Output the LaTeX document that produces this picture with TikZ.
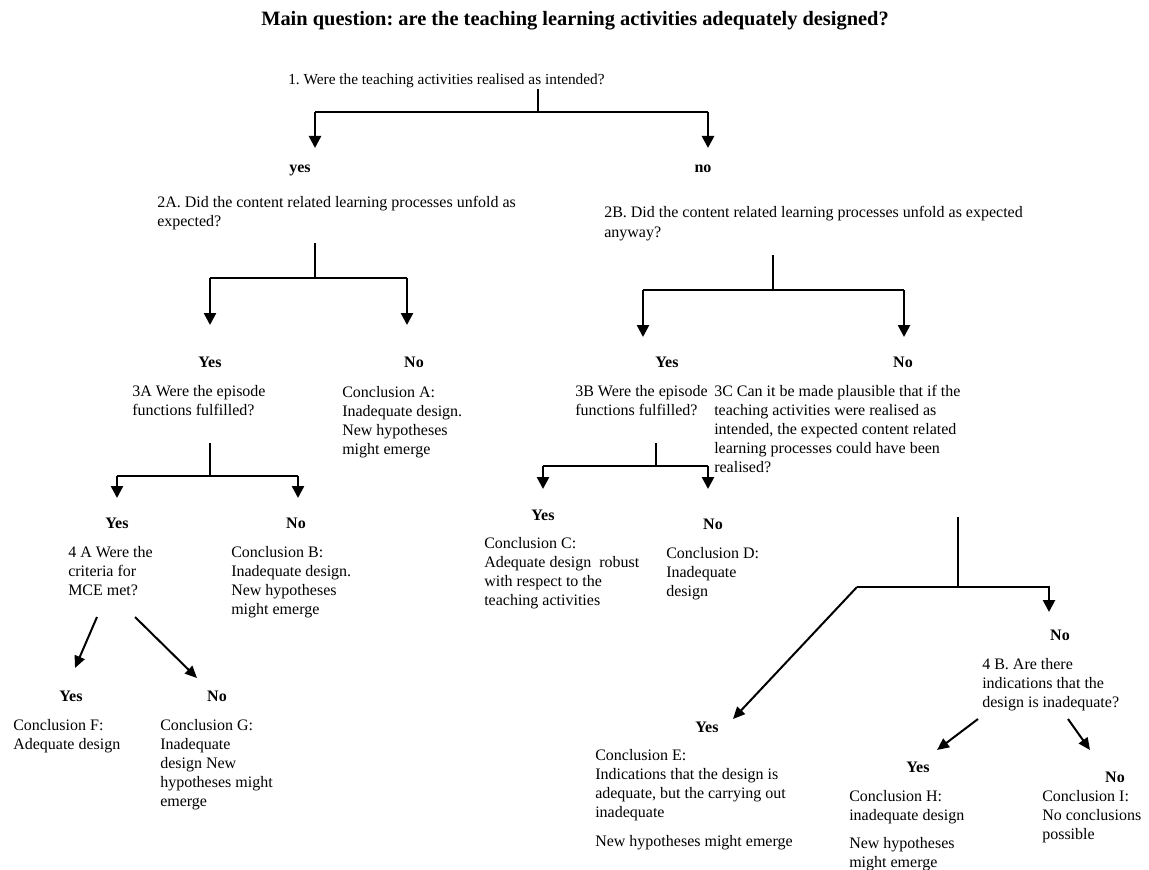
\documentclass[tikz,border=0pt]{standalone}
\usepackage{fontspec}
\setmainfont{Liberation Serif}
\usetikzlibrary{arrows.meta}
\frenchspacing
\newcommand{\txtlines}[1]{\begin{tabular}[t]{@{}l@{}}#1\end{tabular}}
\begin{document}
\begin{tikzpicture}[x=0.75pt,y=-0.75pt,
  txt/.style={inner sep=0pt, anchor=base west, font=\fontsize{12}{14.3}\selectfont},
  lbl/.style={inner sep=0pt, anchor=base, font=\fontsize{12}{14.3}\selectfont\bfseries},
  stem/.style={line width=0.8pt},
  bar/.style={line width=1.1pt},
  arr/.style={line width=1.9pt, -{Triangle[width=9pt,length=9pt]}},
  darr/.style={line width=1.5pt, -{Triangle[width=8pt,length=9pt]}}]
\useasboundingbox (0,0) rectangle (1149,870);

% ---------- texts ----------
\node[inner sep=0pt, anchor=base, font=\fontsize{15.3}{17}\selectfont\bfseries] (title) at (575,26)
  {Main question: are the teaching learning activities adequately designed?};
\node[txt, font=\fontsize{11.5}{14.3}\selectfont] (q1) at (288,85) {1. Were the teaching activities realised as intended?};
\node[lbl] (yes1) at (300,172) {yes};
\node[lbl] (no1) at (703,172) {no};
\node[txt] (q2A) at (157,207) {\txtlines{2A. Did the content related learning processes unfold as\\expected?}};
\node[txt] (q2B) at (604,218) {\txtlines{2B. Did the content related learning processes unfold as expected\\anyway?}};
\node[lbl] (yes2A) at (210,367) {Yes};
\node[lbl] (no2A) at (414,367) {No};
\node[lbl] (yes2B) at (667,367) {Yes};
\node[lbl] (no2B) at (903,367) {No};
\node[txt] (q3A) at (132,396) {\txtlines{3A Were the episode\\functions fulfilled?}};
\node[txt] (concA) at (342,397) {\txtlines{Conclusion A:\\Inadequate design.\\New hypotheses\\might emerge}};
\node[txt] (q3B) at (575,396) {\txtlines{3B Were the episode\\functions fulfilled?}};
\node[txt] (q3C) at (714,396) {\txtlines{3C Can it be made plausible that if the\\teaching activities were realised as\\intended, the expected content related\\learning processes could have been\\realised?}};
\node[lbl] (yes3A) at (117,528) {Yes};
\node[lbl] (no3A) at (296,528) {No};
\node[txt] (q4A) at (68,557) {\txtlines{4 A Were the\\criteria for\\MCE met?}};
\node[txt] (concB) at (231,557) {\txtlines{Conclusion B:\\Inadequate design.\\New hypotheses\\might emerge}};
\node[lbl] (yes3B) at (543,520) {Yes};
\node[lbl] (no3B) at (713,529) {No};
\node[txt] (concC) at (484,548) {\txtlines{Conclusion C:\\Adequate design~ robust\\with respect to the\\teaching activities}};
\node[txt] (concD) at (666,558) {\txtlines{Conclusion D:\\Inadequate\\design}};
\node[lbl] (yes4A) at (71,701) {Yes};
\node[lbl] (no4A) at (217,701) {No};
\node[txt] (concF) at (13,730) {\txtlines{Conclusion F:\\Adequate design}};
\node[txt] (concG) at (160,730) {\txtlines{Conclusion G:\\Inadequate\\design New\\hypotheses might\\emerge}};
\node[lbl] (yesE) at (707,732) {Yes};
\node[txt] (concE) at (595,760) {\txtlines{Conclusion E:\\Indications that the design is\\adequate, but the carrying out\\inadequate\\[8pt]New hypotheses might emerge}};
\node[lbl] (no4B) at (1060,640) {No};
\node[txt] (q4B) at (982,669) {\txtlines{4 B. Are there\\indications that the\\design is inadequate?}};
\node[lbl] (yesH) at (918,772) {Yes};
\node[lbl] (noI) at (1115,782) {No};
\node[txt] (concH) at (849,801) {\txtlines{Conclusion H:\\inadequate design\\[7pt]New hypotheses\\might emerge}};
\node[txt] (concI) at (1042,801) {\txtlines{Conclusion I:\\No conclusions\\possible}};

% ---------- connector points ----------
\coordinate (s1) at (538,89);   \coordinate (j1) at (538,112);
\coordinate (b1l) at (315,112); \coordinate (b1r) at (708,112);
\coordinate (t1l) at (315,148); \coordinate (t1r) at (708,148);

\coordinate (s2A) at (315,243); \coordinate (j2A) at (315,278);
\coordinate (b2Al) at (210,278); \coordinate (b2Ar) at (407,278);
\coordinate (t2Al) at (210,325); \coordinate (t2Ar) at (407,325);

\coordinate (s2B) at (773,255); \coordinate (j2B) at (773,290);
\coordinate (b2Bl) at (643,290); \coordinate (b2Br) at (904,290);
\coordinate (t2Bl) at (643,337); \coordinate (t2Br) at (904,337);

\coordinate (s3A) at (210,443); \coordinate (j3A) at (210,476);
\coordinate (b3Al) at (117,476); \coordinate (b3Ar) at (298,476);
\coordinate (t3Al) at (117,498); \coordinate (t3Ar) at (298,498);

\coordinate (s3B) at (656,443); \coordinate (j3B) at (656,466);
\coordinate (b3Bl) at (543,466); \coordinate (b3Br) at (708,466);
\coordinate (t3Bl) at (543,489); \coordinate (t3Br) at (708,489);

\coordinate (s3C) at (958,517); \coordinate (j3C) at (958,587);
\coordinate (b3Cl) at (857,587); \coordinate (b3Cr) at (1050,587);
\coordinate (a3Cr) at (1049,587); \coordinate (t3Cr) at (1049,612);
\coordinate (t3Cl) at (733,719);

\coordinate (a4Al) at (97,617);  \coordinate (t4Al) at (75,668);
\coordinate (a4Ar) at (135,617); \coordinate (t4Ar) at (197,678);
\coordinate (a4Bl) at (978,719); \coordinate (t4Bl) at (937,750);
\coordinate (a4Br) at (1068,719); \coordinate (t4Br) at (1090,750);

% ---------- connectors ----------
\draw[stem] (s1) -- (j1);
\draw[bar] (b1l) -- (b1r);
\draw[arr] (b1l) -- (t1l);
\draw[arr] (b1r) -- (t1r);

\draw[stem] (s2A) -- (j2A);
\draw[bar] (b2Al) -- (b2Ar);
\draw[arr] (b2Al) -- (t2Al);
\draw[arr] (b2Ar) -- (t2Ar);

\draw[stem] (s2B) -- (j2B);
\draw[bar] (b2Bl) -- (b2Br);
\draw[arr] (b2Bl) -- (t2Bl);
\draw[arr] (b2Br) -- (t2Br);

\draw[stem] (s3A) -- (j3A);
\draw[bar] (b3Al) -- (b3Ar);
\draw[arr] (b3Al) -- (t3Al);
\draw[arr] (b3Ar) -- (t3Ar);

\draw[stem] (s3B) -- (j3B);
\draw[bar] (b3Bl) -- (b3Br);
\draw[arr] (b3Bl) -- (t3Bl);
\draw[arr] (b3Br) -- (t3Br);

\draw[stem] (s3C) -- (j3C);
\draw[bar] (b3Cl) -- (b3Cr);
\draw[arr] (a3Cr) -- (t3Cr);
\draw[darr] (b3Cl) -- (t3Cl);

\draw[darr] (a4Al) -- (t4Al);
\draw[darr] (a4Ar) -- (t4Ar);
\draw[darr] (a4Bl) -- (t4Bl);
\draw[darr] (a4Br) -- (t4Br);
\end{tikzpicture}
\end{document}
